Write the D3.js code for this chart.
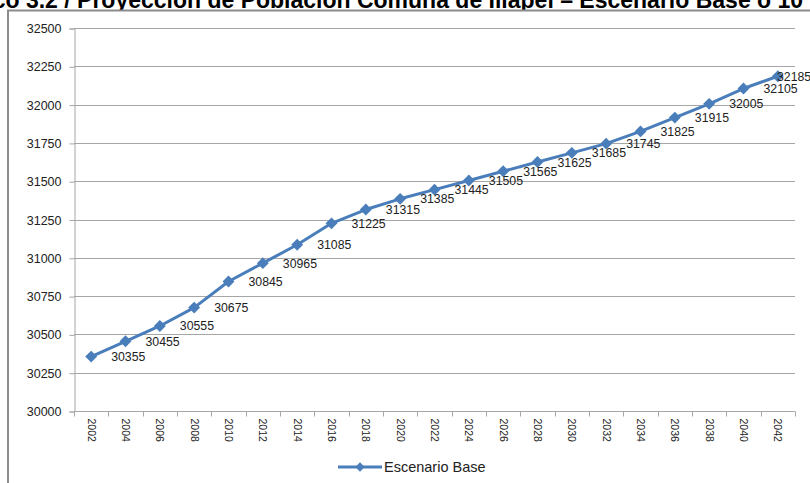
<!DOCTYPE html>
<html>
<head>
<meta charset="utf-8">
<script src="https://cdn.jsdelivr.net/npm/d3@7"></script>
<style>
  html, body { margin: 0; padding: 0; background: #fff; }
  svg { display: block; }
  text { font-family: "Liberation Sans", Arial, sans-serif; }
</style>
</head>
<body>
<svg id="chart" width="810" height="483"></svg>
<script>
// Proyección de población, comuna de Illapel (escenario base)
const years = ["2002","2004","2006","2008","2010","2012","2014","2016","2018","2020","2022",
               "2024","2026","2028","2030","2032","2034","2036","2038","2040","2042"];
const poblacion = [30355, 30455, 30555, 30675, 30845, 30965, 31085, 31225, 31315, 31385, 31445,
                   31505, 31565, 31625, 31685, 31745, 31825, 31915, 32005, 32105, 32185];
const yTicks = [30000, 30250, 30500, 30750, 31000, 31250, 31500, 31750, 32000, 32250, 32500];
const seriesName = "Escenario Base";
const titleText = "Gráfico 3.2 / Proyección de Población Comuna de Illapel – Escenario Base o 10";

const W = 810, H = 483;
const margin = { left: 74, right: 15, top: 28, bottom: 72 };
const blue = "#4a7ebb";
const grid = "#a6a6a6";

const svg = d3.select("#chart");

// title (runs past the top and side edges)
svg.append("text")
  .attr("x", -61).attr("y", 8)
  .attr("font-size", 23).attr("font-weight", "bold").attr("fill", "#000")
  .text(titleText);

// chart frame
svg.append("rect")
  .attr("x", 8).attr("y", 10.5).attr("width", W + 10).attr("height", H + 10)
  .attr("fill", "#fff").attr("stroke", "#8c8c8c").attr("stroke-width", 2);

const x = d3.scaleBand().domain(years).range([margin.left, W - margin.right]);
const y = d3.scaleLinear().domain([30000, 32500]).range([H - margin.bottom, margin.top]);

const g = svg.append("g");

// horizontal gridlines
g.append("g").selectAll("line").data(yTicks.slice(1)).join("line")
  .attr("x1", margin.left).attr("x2", W - margin.right)
  .attr("y1", d => Math.round(y(d)) + 0.5).attr("y2", d => Math.round(y(d)) + 0.5)
  .attr("stroke", grid).attr("stroke-width", 1);

// y axis
const yAxis = g.append("g")
  .attr("transform", `translate(${margin.left + 0.5},0.5)`)
  .call(d3.axisLeft(y).tickValues(yTicks).tickSize(5).tickPadding(8).tickFormat(d3.format("d")));
yAxis.select(".domain").attr("stroke", grid);
yAxis.selectAll(".tick line").attr("stroke", grid);
yAxis.selectAll(".tick text").attr("font-size", 12.5).attr("fill", "#222")
  .attr("font-family", "'Liberation Sans', Arial, sans-serif");

// x axis: ticks between categories, labels rotated
const xAxisY = Math.round(y(30000)) + 0.5;
const xg = g.append("g");
xg.append("line")
  .attr("x1", margin.left).attr("x2", W - margin.right)
  .attr("y1", xAxisY).attr("y2", xAxisY).attr("stroke", grid);
const bounds = years.map(d => x(d)).concat([x(years[years.length - 1]) + x.bandwidth()]);
xg.selectAll("line.tk").data(bounds).join("line").attr("class", "tk")
  .attr("x1", d => Math.round(d) + 0.5).attr("x2", d => Math.round(d) + 0.5)
  .attr("y1", xAxisY).attr("y2", xAxisY + 5).attr("stroke", grid);
xg.selectAll("text").data(years).join("text")
  .attr("transform", d => `translate(${x(d) + x.bandwidth() / 2 - 3.5},${xAxisY + 7}) rotate(90)`)
  .attr("font-size", 10.5).attr("fill", "#222")
  .text(d => d);

// series line
const cx = d => x(d) + x.bandwidth() / 2;
const line = d3.line().x((d, i) => cx(years[i])).y(d => y(d));
g.append("path").datum(poblacion)
  .attr("d", line).attr("fill", "none")
  .attr("stroke", blue).attr("stroke-width", 3).attr("stroke-linejoin", "round");

// diamond markers
const diamond = d3.symbol().type(d3.symbolDiamond2).size(90);
g.append("g").selectAll("path").data(poblacion).join("path")
  .attr("d", diamond)
  .attr("transform", (d, i) => `translate(${cx(years[i])},${y(d)})`)
  .attr("fill", blue);

// value labels to the right of each point
const lblW = 36;
g.append("g").selectAll("text").data(poblacion).join("text")
  .attr("x", (d, i) => Math.min(cx(years[i]) + 20, W - lblW + 3))
  .attr("y", d => y(d) + 4.5)
  .attr("font-size", 12.3).attr("fill", "#222")
  .text(d => d);

// legend
const lg = svg.append("g").attr("transform", "translate(338,467)");
lg.append("line").attr("x1", 0).attr("x2", 44).attr("y1", 0).attr("y2", 0)
  .attr("stroke", blue).attr("stroke-width", 3);
lg.append("path").attr("d", d3.symbol().type(d3.symbolDiamond2).size(55))
  .attr("transform", "translate(22,0)").attr("fill", blue);
lg.append("text").attr("x", 46).attr("y", 5).attr("font-size", 14.5).attr("fill", "#222")
  .text(seriesName);
</script>
</body>
</html>
